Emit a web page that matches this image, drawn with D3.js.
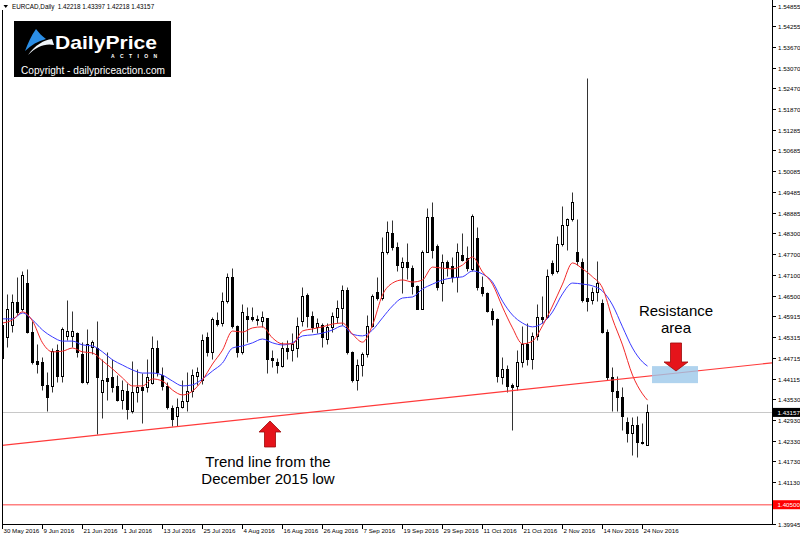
<!DOCTYPE html>
<html><head><meta charset="utf-8">
<script src="https://cdn.jsdelivr.net/npm/d3@7"></script>
<style>
body{margin:0;background:#fff}
svg{display:block}
text{font-family:"Liberation Sans",Arial,sans-serif}
</style>
</head><body>
<svg id="c" width="800" height="538"></svg>
<script>
// ---------------- DATA (EURCAD Daily, 30 May 2016 - 25 Nov 2016) ----------------
const opens=[1.4472,1.4530,1.4567,1.4631,1.4611,1.4688,1.4547,1.4461,1.4458,1.4392,
1.4389,1.4495,1.4418,1.4533,1.4533,1.4544,1.4481,1.4403,1.4504,1.4501,
1.4372,1.4412,1.4415,1.4389,1.4351,1.4377,1.4317,1.4372,1.4386,1.4386,
1.4400,1.4501,1.4421,1.4389,1.4328,1.4303,1.4331,1.4346,1.4375,1.4420,
1.4409,1.4530,1.4487,1.4579,1.4573,1.4634,1.4705,1.4562,1.4487,1.4593,
1.4590,1.4582,1.4576,1.4585,1.4470,1.4458,1.4449,1.4501,1.4495,1.4501,
1.4576,1.4651,1.4593,1.4559,1.4565,1.4525,1.4559,1.4590,1.4616,1.4668,
1.4487,1.4409,1.4452,1.4481,1.4564,1.4660,1.4645,1.4775,1.4832,1.4789,
1.4734,1.4746,1.4730,1.4677,1.4613,1.4777,1.4878,1.4792,1.4688,1.4746,
1.4737,1.4703,1.4766,1.4760,1.4726,1.4815,1.4674,1.4659,1.4605,1.4582,
1.4415,1.4438,1.4392,1.4389,1.4458,1.4510,1.4467,1.4533,1.4590,1.4590,
1.4745,1.4720,1.4798,1.4855,1.4870,1.4777,1.4746,1.4645,1.4639,1.4662,
1.4630,1.4547,1.4415,1.4375,1.4360,1.4288,1.4256,1.4279,1.4230,1.42218];
const highs=[1.4582,1.4654,1.4654,1.4703,1.4720,1.4726,1.4576,1.4510,1.4475,1.4432,
1.4501,1.4510,1.4559,1.4639,1.4605,1.4547,1.4518,1.4553,1.4524,1.4576,
1.4467,1.4487,1.4467,1.4423,1.4409,1.4400,1.4461,1.4438,1.4429,1.4467,
1.4533,1.4524,1.4444,1.4403,1.4337,1.4357,1.4409,1.4432,1.4438,1.4446,
1.4539,1.4547,1.4590,1.4602,1.4662,1.4717,1.4731,1.4567,1.4625,1.4619,
1.4619,1.4596,1.4605,1.4587,1.4495,1.4472,1.4516,1.4524,1.4544,1.4590,
1.4674,1.4659,1.4605,1.4587,1.4573,1.4573,1.4602,1.4639,1.4682,1.4674,
1.4490,1.4467,1.4487,1.4596,1.4654,1.4703,1.4818,1.4864,1.4867,1.4806,
1.4763,1.4803,1.4738,1.4682,1.4783,1.4904,1.4921,1.4798,1.4769,1.4754,
1.4763,1.4803,1.4832,1.4792,1.4884,1.4849,1.4706,1.4662,1.4616,1.4587,
1.4475,1.4452,1.4400,1.4495,1.4562,1.4573,1.4547,1.4625,1.4648,1.4726,
1.4754,1.4821,1.4907,1.4875,1.4950,1.4870,1.4760,1.5278,1.4674,1.4749,
1.4640,1.4553,1.4446,1.4418,1.4386,1.4300,1.4300,1.4303,1.4285,1.43397];
const lows=[1.4461,1.4504,1.4547,1.4596,1.4605,1.4544,1.4455,1.4429,1.4380,1.4317,
1.4372,1.4403,1.4403,1.4524,1.4504,1.4475,1.4400,1.4395,1.4481,1.4251,
1.4297,1.4351,1.4372,1.4346,1.4323,1.4294,1.4314,1.4343,1.4285,1.4372,
1.4395,1.4418,1.4380,1.4323,1.4274,1.4274,1.4326,1.4317,1.4360,1.4392,
1.4395,1.4478,1.4467,1.4564,1.4562,1.4628,1.4556,1.4475,1.4481,1.4518,
1.4576,1.4567,1.4559,1.4429,1.4446,1.4429,1.4444,1.4467,1.4461,1.4475,
1.4562,1.4559,1.4547,1.4544,1.4504,1.4510,1.4547,1.4573,1.4567,1.4481,
1.4403,1.4380,1.4418,1.4475,1.4559,1.4639,1.4639,1.4769,1.4783,1.4720,
1.4659,1.4697,1.4654,1.4611,1.4611,1.4775,1.4760,1.4668,1.4634,1.4706,
1.4691,1.4662,1.4749,1.4720,1.4720,1.4668,1.4648,1.4602,1.4567,1.4403,
1.4395,1.4372,1.4265,1.4380,1.4444,1.4452,1.4438,1.4524,1.4573,1.4587,
1.4711,1.4717,1.4792,1.4783,1.4864,1.4740,1.4631,1.4605,1.4625,1.4634,
1.4544,1.4409,1.4317,1.4317,1.4265,1.4228,1.4193,1.4187,1.4222,1.42218];
const closes=[1.4567,1.4611,1.4631,1.4602,1.4711,1.4547,1.4458,1.4455,1.4392,1.4360,
1.4490,1.4418,1.4553,1.4550,1.4550,1.4487,1.4403,1.4510,1.4516,1.4415,
1.4409,1.4406,1.4386,1.4351,1.4380,1.4323,1.4372,1.4386,1.4380,1.4415,
1.4501,1.4432,1.4389,1.4331,1.4294,1.4331,1.4346,1.4375,1.4423,1.4432,
1.4524,1.4487,1.4582,1.4570,1.4634,1.4705,1.4562,1.4487,1.4602,1.4582,
1.4582,1.4579,1.4590,1.4467,1.4464,1.4452,1.4501,1.4490,1.4510,1.4562,
1.4648,1.4593,1.4559,1.4573,1.4530,1.4559,1.4593,1.4616,1.4668,1.4487,
1.4409,1.4452,1.4481,1.4564,1.4648,1.4645,1.4777,1.4835,1.4789,1.4740,
1.4746,1.4734,1.4677,1.4613,1.4777,1.4878,1.4783,1.4674,1.4746,1.4734,
1.4703,1.4775,1.4754,1.4731,1.4881,1.4674,1.4659,1.4605,1.4582,1.4418,
1.4438,1.4389,1.4386,1.4458,1.4510,1.4467,1.4533,1.4590,1.4582,1.4706,
1.4717,1.4798,1.4855,1.4870,1.4921,1.4749,1.4639,1.4636,1.4662,1.4688,
1.4547,1.4415,1.4375,1.4360,1.4303,1.4256,1.4279,1.4230,1.4225,1.43157];

// moving averages (every 2nd bar + last bar)
const maIdx=[0,2,4,6,8,10,12,14,16,18,20,22,24,26,28,30,32,34,36,38,40,42,44,46,48,50,52,54,56,58,60,62,64,
66,68,70,72,74,76,78,80,82,84,86,88,90,92,94,96,98,100,102,104,106,108,110,112,114,116,118,120,122,124,126,128,129];
const maFast=[1.4573,1.4582,1.4605,1.4579,1.4516,1.4490,1.4492,1.4501,1.4490,1.4487,1.4464,1.4441,1.4415,1.4392,
1.4392,1.4412,1.4406,1.4380,1.4366,1.4377,1.4409,1.4455,1.4495,1.4550,1.4547,1.4559,1.4562,1.4530,1.4513,1.4513,
1.4550,1.4556,1.4562,1.4570,1.4573,1.4541,1.4518,1.4567,1.4654,1.4688,1.4697,1.4691,1.4697,1.4734,1.4731,1.4729,
1.4740,1.4763,1.4720,1.4685,1.4619,1.4559,1.4513,1.4521,1.4565,1.4622,1.4685,1.4746,1.4729,1.4706,1.4674,1.4585,
1.4510,1.4423,1.4369,1.4351];
const maSlow=[1.4585,1.4585,1.4602,1.4582,1.4553,1.4533,1.4521,1.4521,1.4510,1.4507,1.4490,1.4467,1.4452,1.4438,
1.4429,1.4429,1.4423,1.4406,1.4392,1.4395,1.4412,1.4435,1.4458,1.4501,1.4507,1.4516,1.4527,1.4516,1.4510,1.4516,
1.4536,1.4539,1.4544,1.4553,1.4565,1.4541,1.4536,1.4553,1.4588,1.4622,1.4645,1.4648,1.4671,1.4685,1.4697,1.4703,
1.4706,1.4723,1.4714,1.4691,1.4636,1.4596,1.4573,1.4562,1.4573,1.4605,1.4657,1.4688,1.4685,1.4680,1.4665,1.4625,
1.4562,1.4501,1.4461,1.4449];

// trend line (from the December 2015 low) and resistance zone
const trendIdx=[-0.1,153.9];
const trendPrice=[1.42208,1.44584];
const zoneIdx=[129.9,139.1];
const zonePrice=[1.4400,1.4449];
const bidPrice=1.43157;
const levelPrice=1.40500;

const priceTicks=[1.54855,1.54255,1.53670,1.53070,1.52470,1.51870,1.51285,1.50685,1.50085,1.49485,1.48885,
1.48300,1.47700,1.47100,1.46500,1.45915,1.45315,1.44715,1.44115,1.43530,1.42930,1.42330,1.41730,1.41130,1.39945];
const dateIdx=[0,8,16,24,32,40,48,56,64,72,80,88,96,104,112,120,128];
const dateLabels=["30 May 2016","9 Jun 2016","21 Jun 2016","1 Jul 2016","13 Jul 2016","25 Jul 2016","4 Aug 2016",
"16 Aug 2016","26 Aug 2016","7 Sep 2016","19 Sep 2016","29 Sep 2016","11 Oct 2016","21 Oct 2016","2 Nov 2016",
"14 Nov 2016","24 Nov 2016"];
const headerText="EURCAD,Daily  1.42218 1.43397 1.42218 1.43157";

// ---------------- DRAW ----------------
const svg=d3.select("#c");
const x=d3.scaleLinear().domain([0,154]).range([2.5,772.5]);
const y=d3.scaleLinear().domain([1.39945,1.54971]).range([524,2]);
const snap=v=>Math.round(v-0.5)+0.5;
const fmt=d3.format(".5f");

svg.append("defs").append("clipPath").attr("id","plot")
  .append("rect").attr("x",2.5).attr("y",0).attr("width",770).attr("height",524);
const plot=svg.append("g").attr("clip-path","url(#plot)");

// bid line
plot.append("line").attr("x1",2).attr("x2",772.5)
  .attr("y1",snap(y(bidPrice))).attr("y2",snap(y(bidPrice)))
  .attr("stroke","#c8c8c8").attr("stroke-width",1);

// candles
const bars=d3.range(opens.length).map(i=>({i,o:opens[i],h:highs[i],l:lows[i],c:closes[i]}));
const cg=plot.append("g");
cg.selectAll("line.w").data(bars).join("line")
  .attr("x1",d=>x(d.i)).attr("x2",d=>x(d.i))
  .attr("y1",d=>snap(y(d.h))).attr("y2",d=>snap(y(d.l)))
  .attr("stroke","#333").attr("stroke-width",1);
cg.selectAll("rect").data(bars).join("rect")
  .attr("x",d=>x(d.i)-1).attr("width",2)
  .attr("y",d=>snap(y(Math.max(d.o,d.c))))
  .attr("height",d=>Math.max(0.5,snap(y(Math.min(d.o,d.c)))-snap(y(Math.max(d.o,d.c)))))
  .attr("fill",d=>d.c>=d.o?"#fff":"#000")
  .attr("stroke","#000").attr("stroke-width",1);

// moving averages
const maLine=arr=>d3.line().x((d,k)=>x(maIdx[k])).y(d=>y(d)).curve(d3.curveMonotoneX)(arr);
plot.append("path").attr("d",maLine(maSlow)).attr("fill","none").attr("stroke","#3a3aff").attr("stroke-width",1);
plot.append("path").attr("d",maLine(maFast)).attr("fill","none").attr("stroke","#f22828").attr("stroke-width",1);

// trend line
plot.append("line").attr("x1",x(trendIdx[0])).attr("x2",x(trendIdx[1]))
  .attr("y1",y(trendPrice[0])).attr("y2",y(trendPrice[1]))
  .attr("stroke","#ff3a3a").attr("stroke-width",1.1);

// resistance zone
plot.append("rect").attr("x",x(zoneIdx[0])).attr("width",x(zoneIdx[1])-x(zoneIdx[0]))
  .attr("y",y(zonePrice[1])).attr("height",y(zonePrice[0])-y(zonePrice[1]))
  .attr("fill","#9cc8ea").attr("opacity",0.8);

// horizontal level
plot.append("line").attr("x1",2).attr("x2",772.5)
  .attr("y1",y(levelPrice)).attr("y2",y(levelPrice))
  .attr("stroke","#ff8080").attr("stroke-width",1.6);

// arrows
const arrowUp=[[0,0],[11,11],[5.5,11],[5.5,26],[-5.5,26],[-5.5,11],[-11,11]];
const arrowDown=[[0,0],[12,-9],[5.5,-9],[5.5,-28],[-5.5,-28],[-5.5,-9],[-12,-9]];
function drawArrow(shape,i,p){
  const ax=x(i), ay=y(p);
  svg.append("path").attr("d","M"+shape.map(q=>(ax+q[0])+","+(ay+q[1])).join("L")+"Z")
    .attr("fill","#e5141b").attr("stroke","#9a0a0a").attr("stroke-width",0.8);
  return [ax,ay];
}
const up=drawArrow(arrowUp,53.5,1.4291);
const dn=drawArrow(arrowDown,134.7,1.4435);

const ann=svg.append("g").attr("font-size",15).attr("fill","#000").attr("text-anchor","middle");
ann.append("text").attr("x",up[0]-2).attr("y",up[1]+46).text("Trend line from the");
ann.append("text").attr("x",up[0]-2).attr("y",up[1]+63).text("December 2015 low");
ann.append("text").attr("x",dn[0]).attr("y",dn[1]-54.5).text("Resistance");
ann.append("text").attr("x",dn[0]).attr("y",dn[1]-37.5).text("area");

// frame
svg.append("line").attr("x1",2.5).attr("x2",2.5).attr("y1",10).attr("y2",524.5).attr("stroke","#000");
svg.append("line").attr("x1",2).attr("x2",773).attr("y1",524.5).attr("y2",524.5).attr("stroke","#000");
svg.append("line").attr("x1",772.5).attr("x2",772.5).attr("y1",0).attr("y2",525).attr("stroke","#000");

// right axis
const ra=svg.append("g").attr("font-size",6.2).attr("fill","#000");
priceTicks.forEach(v=>{
  const yy=snap(y(v));
  ra.append("line").attr("x1",772.5).attr("x2",776).attr("y1",yy).attr("y2",yy).attr("stroke","#000");
  ra.append("text").attr("x",778).attr("y",yy+2.2).text(fmt(v));
});
[[bidPrice,"#000"],[levelPrice,"#ff0000"]].forEach(([v,col])=>{
  const yy=y(v);
  ra.append("rect").attr("x",773).attr("y",yy-4.5).attr("width",27).attr("height",9).attr("fill",col);
  ra.append("text").attr("x",777.5).attr("y",yy+2.2).attr("fill","#fff").text(fmt(v));
});

// bottom axis
const ba=svg.append("g").attr("font-size",6.2).attr("fill","#000");
dateIdx.forEach((d,k)=>{
  const xx=snap(x(d));
  ba.append("line").attr("x1",xx).attr("x2",xx).attr("y1",524.5).attr("y2",529).attr("stroke","#000");
  ba.append("text").attr("x",xx+1).attr("y",532.5).text(dateLabels[k]);
});

// header
svg.append("path").attr("d","M3.5,5 L8,5 L5.75,8 Z").attr("fill","#000");
svg.append("text").attr("x",12).attr("y",9).attr("font-size",6.3).style("white-space","pre").text(headerText);

// logo
const lg=svg.append("g");
lg.append("rect").attr("x",14).attr("y",21).attr("width",157).attr("height",56).attr("fill","#000");
lg.append("path").attr("d","M25,51 C28,43 31,36 36,29 C39,33 42,36 46,39 C38,41 31,45 25,51 Z").attr("fill","#2b8ee6");
lg.append("path").attr("d","M28,55 C36,47 45,43 54,45 L52,39 C44,40 35,45 28,55 Z").attr("fill","#eef4fa");
lg.append("text").attr("x",55).attr("y",48.5).attr("font-size",19).attr("font-weight","bold")
  .attr("fill","#fff").attr("textLength",102).attr("lengthAdjust","spacingAndGlyphs").text("DailyPrice");
lg.append("text").attr("x",111).attr("y",58).attr("font-size",5).attr("font-weight","bold")
  .attr("fill","#fff").attr("textLength",46).text("ACTION");
lg.append("text").attr("x",21).attr("y",74).attr("font-size",10.5)
  .attr("fill","#fff").attr("textLength",144).attr("lengthAdjust","spacingAndGlyphs").text("Copyright - dailypriceaction.com");
</script>
</body></html>
